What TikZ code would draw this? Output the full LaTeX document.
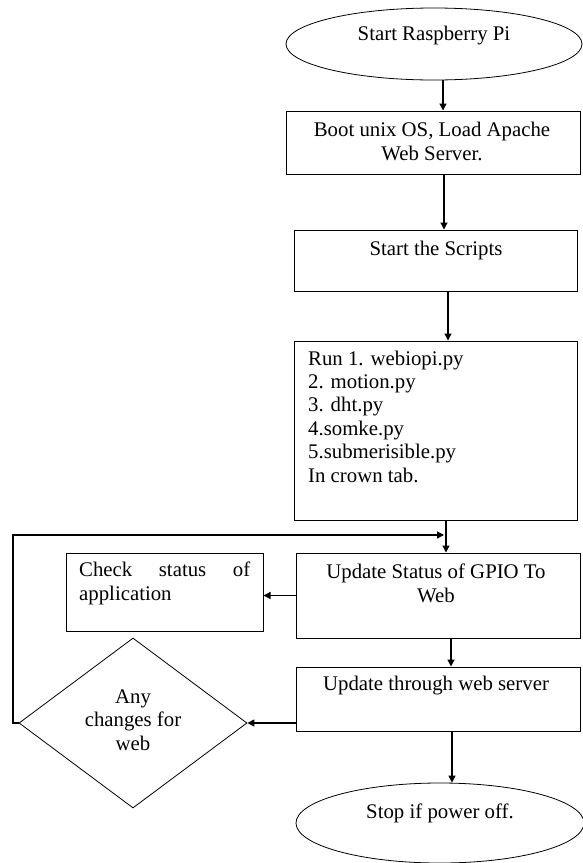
\documentclass[tikz,border=0pt]{standalone}
\usepackage{fontspec}
\setmainfont{Liberation Serif}
\usetikzlibrary{shapes.geometric,arrows.meta}
\begin{document}
\begin{tikzpicture}[x=1pt,y=-1pt,
  txt/.style={font=\fontsize{20.8}{23.4}\selectfont,inner sep=0pt},
  rbox/.style={draw,line width=1pt,rectangle,inner sep=0pt},
  oval/.style={draw,line width=0.8pt,ellipse,inner sep=0pt},
  decis/.style={draw,line width=0.8pt,diamond,inner sep=0pt},
  arr/.style={line width=1.3pt,-{Triangle[length=7pt,width=7pt]}}]
\useasboundingbox (0,0) rectangle (582,863);
% shapes
\node[oval,minimum width=296pt,minimum height=72pt] (start) at (434,44) {};
\node[rbox,minimum width=294pt,minimum height=63pt] (boot) at (433,142.5) {};
\node[rbox,minimum width=283pt,minimum height=61pt] (scripts) at (435.5,260.5) {};
\node[rbox,minimum width=283pt,minimum height=179pt] (run) at (435.5,430.5) {};
\node[rbox,minimum width=284pt,minimum height=85pt] (gpio) at (438,595.5) {};
\node[rbox,minimum width=197pt,minimum height=78pt] (check) at (164.5,592) {};
\node[rbox,minimum width=284pt,minimum height=64pt] (web) at (438,699) {};
\node[decis,minimum width=228pt,minimum height=170pt] (dec) at (133,723) {};
\node[oval,minimum width=288pt,minimum height=80pt] (stop) at (440,823) {};
% texts
\node[txt] (startT) at (434,36) {Start Raspberry Pi};
\node[txt,align=center] (bootT) at (432,141.5) {Boot unix OS, Load Apache\\Web Server.};
\node[txt] (scriptsT) at (436,250) {Start the Scripts};
\node[txt,align=left,anchor=west] (runT) at (308,416.5) {Run 1. webiopi.py\\2. motion.py\\3. dht.py\\4.somke.py\\5.submerisible.py\\In crown tab.};
\node[txt,align=center] (gpioT) at (436,583.5) {Update Status of GPIO To\\Web};
\node[txt,align=left,text width=171pt,anchor=west] (checkT) at (79,583.5) {Check\hfill status\hfill of\\application};
\node[txt] (webT) at (436,686) {Update through web server};
\node[txt,align=center] (decT) at (133,720) {Any\\changes for\\web};
\node[txt] (stopT) at (440,813) {Stop if power off.};
% connectors
\draw[arr] ([xshift=9pt]start.south) -- ([xshift=10pt]boot.north);
\draw[arr] ([xshift=11pt]boot.south) -- ([xshift=8.5pt]scripts.north);
\draw[arr] ([xshift=12.5pt]scripts.south) -- ([xshift=12.5pt]run.north);
\draw[arr] ([xshift=10.5pt]run.south) -- ([xshift=8pt]gpio.north);
\draw[arr] (gpio.west) -- (gpio.west -| check.east);
\draw[arr] ([xshift=13pt]gpio.south) -- ([xshift=13pt]web.north);
\draw[arr] (web.west |- dec.east) -- (dec.east);
\draw[arr] ([xshift=14pt]web.south) -- ([xshift=12pt]stop.north);
\coordinate (lp) at (13,535);
\coordinate (lq) at (444,535);
\draw[arr] (dec.west) -- (dec.west -| lp) -- (lp) -- (lq);
\end{tikzpicture}
\end{document}
